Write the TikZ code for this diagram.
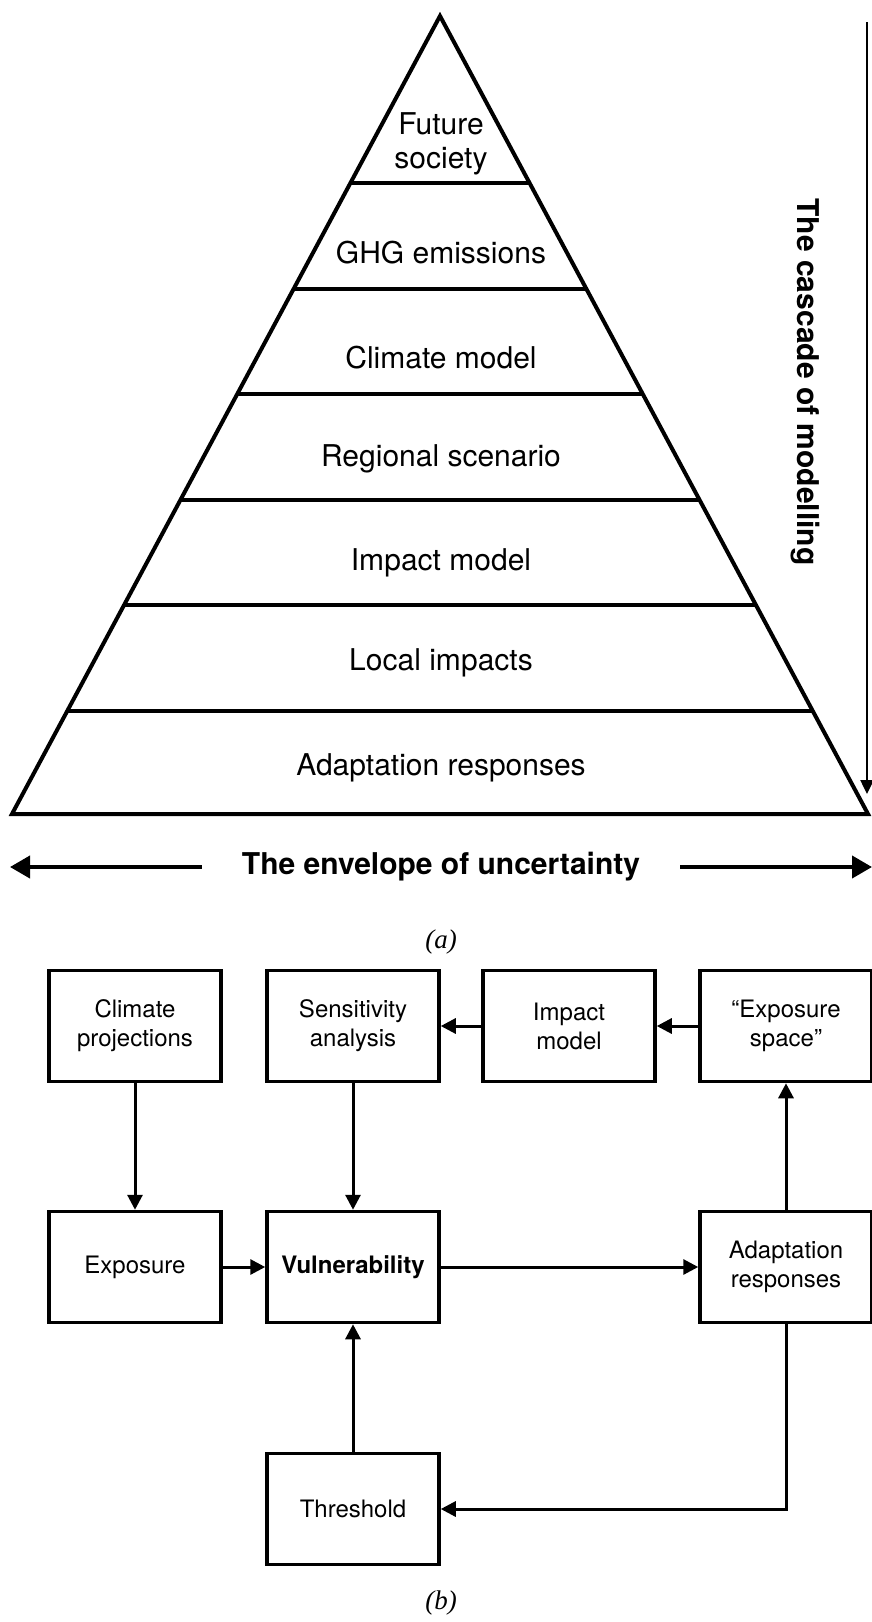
\documentclass[tikz,border=0pt]{standalone}
\usepackage{fontspec}
\setmainfont{TeX Gyre Heros}
\newfontfamily\capfont{Liberation Serif}
\usetikzlibrary{arrows.meta}

\begin{document}
\begin{tikzpicture}
  [x=1pt,y=-1pt,
   outline/.style={line width=4pt},
   level/.style={align=center,font=\fontsize{30}{34}\selectfont},
   heading/.style={font=\bfseries\fontsize{30}{34}\selectfont},
   box/.style={draw,line width=3.5pt,minimum width=172pt,minimum height=111pt,
               align=center,font=\fontsize{24}{29}\selectfont},
   link/.style={line width=3pt,-{Triangle[length=15pt,width=15pt]}},
   wide/.style={line width=4pt,-{Triangle[length=20pt,width=22pt]}},
   caption/.style={font=\capfont\itshape\fontsize{27}{31}\selectfont}]
  \useasboundingbox (0,0) rectangle (872,1622);

  % (a) the pyramid
  \coordinate (apex) at (440,16);
  \coordinate (bl) at (12,814);
  \coordinate (br) at (868,814);
  \draw[outline] (apex) -- (bl) -- (br) -- cycle;
  \foreach \y in {183,289,394,500,605,711}{
    \pgfmathsetmacro\w{0.53634*(\y-16)}
    \draw[outline] (440-\w,\y) -- (440+\w,\y);
  }

  \node[level] (l1) at (441,144) {Future\\society};
  \node[level] (l2) at (441,253) {GHG emissions};
  \node[level] (l3) at (441,358) {Climate model};
  \node[level] (l4) at (441,459) {Regional scenario};
  \node[level] (l5) at (441,563) {Impact model};
  \node[level] (l6) at (441,663) {Local impacts};
  \node[level] (l7) at (441,768) {Adaptation responses};

  \node[heading,rotate=-90] (casc) at (805,382) {The cascade of modelling};
  \coordinate (ctop) at (867,22);
  \coordinate (cbot) at (867,794);
  \draw[line width=2.5pt,-{Triangle[length=14pt,width=13pt]}] (ctop) -- (cbot);

  \node[heading,inner xsep=40pt] (env) at (441,867) {The envelope of uncertainty};
  \coordinate (envl) at (10,867);
  \coordinate (envr) at (872,867);
  \draw[wide] (env.west) -- (envl);
  \draw[wide] (env.east) -- (envr);

  \node[caption] (capa) at (441,942) {(a)};

  % (b) the boxes
  \node[box] (cp) at (135,1026) {Climate\\projections};
  \node[box] (sa) at (353,1026) {Sensitivity\\analysis};
  \node[box] (im) at (569,1026) {Impact\\model};
  \node[box] (es) at (786,1026) {“Exposure\\space”};
  \node[box] (ex) at (135,1267) {Exposure};
  \node[box] (vu) at (353,1267) {\bfseries Vulnerability};
  \node[box] (ar) at (786,1267) {Adaptation\\responses};
  \node[box] (th) at (353,1509) {Threshold};

  \foreach \from/\to in {cp/ex,sa/vu,im/sa,es/im,ex/vu,vu/ar,ar/es,th/vu}
    \draw[link] (\from) -- (\to);
  \draw[link] (ar.south) |- (th.east);

  \node[caption] (capb) at (441,1603) {(b)};

\end{tikzpicture}
\end{document}
